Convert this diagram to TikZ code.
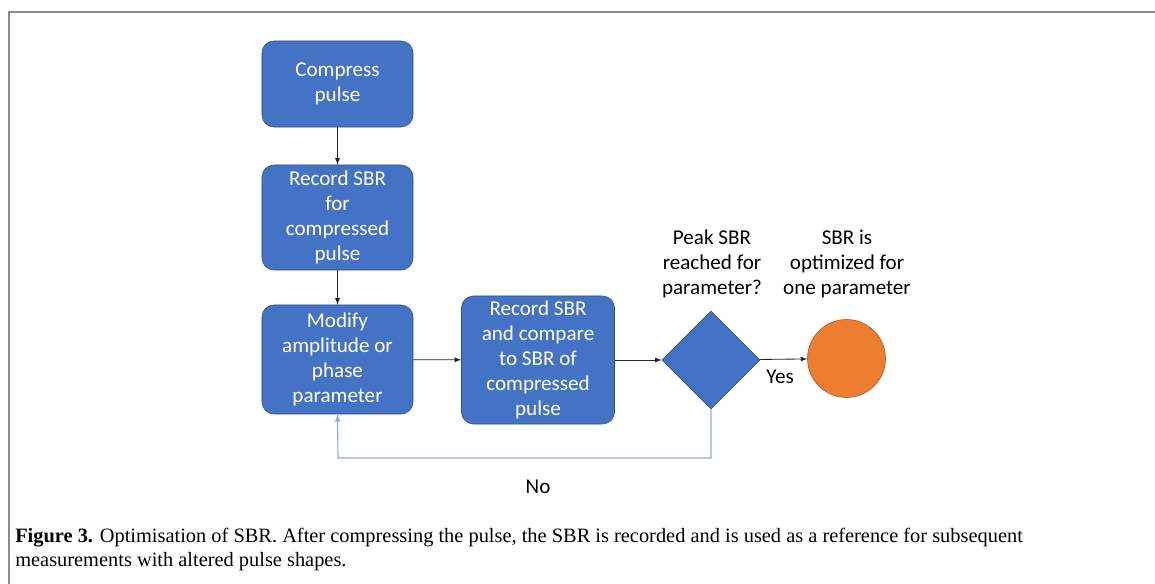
\documentclass[tikz,border=0pt]{standalone}
\usepackage{fontspec}
\setmainfont{Carlito}
\newfontfamily\captionfont{Liberation Serif}
\usetikzlibrary{shapes.geometric}
\definecolor{boxblue}{HTML}{4472C4}
\definecolor{boxedge}{HTML}{2F528F}
\definecolor{endorange}{HTML}{ED7D31}
\definecolor{endedge}{HTML}{AE5A21}
\definecolor{loopblue}{HTML}{8FAADC}
\definecolor{framegray}{HTML}{8C8C8C}

\begin{document}
\begin{tikzpicture}[x=0.025cm,y=-0.025cm,
  boxtext/.style={font=\fontsize{15}{17.8}\selectfont, align=center},
  stepbox/.style={boxtext, draw=boxedge, fill=boxblue, text=white, rounded corners=0.3cm, minimum width=3.775cm, inner sep=1pt},
  flow/.style={->, >=latex, black!85, line width=0.6pt}]

\useasboundingbox (0,0) rectangle (1155,584);
\draw[framegray, line width=1.2pt] (9,584) -- (9,12) -- (1155,12);

\node[stepbox, minimum height=2.15cm] (compress) at (337.5,84) {Compress\\pulse};
\node[stepbox, minimum height=2.625cm] (record) at (337.5,217.5) {Record SBR\\for\\compressed\\pulse};
\node[stepbox, minimum height=2.725cm] (modify) at (337.5,359.5) {Modify\\amplitude or\\phase\\parameter};
\node[stepbox, minimum height=3.2cm, minimum width=3.825cm] (compare) at (538,360) {Record SBR\\and compare\\to SBR of\\compressed\\pulse};
\node[diamond, draw=boxedge, fill=boxblue, inner sep=0pt, minimum width=2.45cm, minimum height=2.45cm] (peak) at (711,360) {};
\node[circle, draw=endedge, fill=endorange, inner sep=0pt, minimum size=1.95cm] (optimum) at (846.5,358.5) {};

\node[boxtext] (peaklabel) at (712,264) {Peak SBR\\reached for\\parameter?};
\node[boxtext] (optlabel) at (847,264) {SBR is\\optimized for\\one parameter};
\node[boxtext] (yes) at (780,377) {Yes};
\node[boxtext] (no) at (538,487) {No};

\draw[flow] (compress) -- (record);
\draw[flow] (record) -- (modify);
\draw[flow] (modify) -- (compare);
\draw[flow] (compare) -- (peak);
\draw[flow] (peak) -- (optimum);

\coordinate (loopturn) at (338,458);
\draw[->, >=latex, loopblue, line width=0.8pt] (peak.south) |- (loopturn) -- (modify.south);

\node[anchor=north west, align=left, inner sep=0pt, font=\captionfont\fontsize{14.5}{17}\selectfont] (caption) at (15,528)
  {\textbf{Figure 3.} Optimisation of SBR. After compressing the pulse, the SBR is recorded and is used as a reference for subsequent\\
   measurements with altered pulse shapes.};
\end{tikzpicture}
\end{document}
